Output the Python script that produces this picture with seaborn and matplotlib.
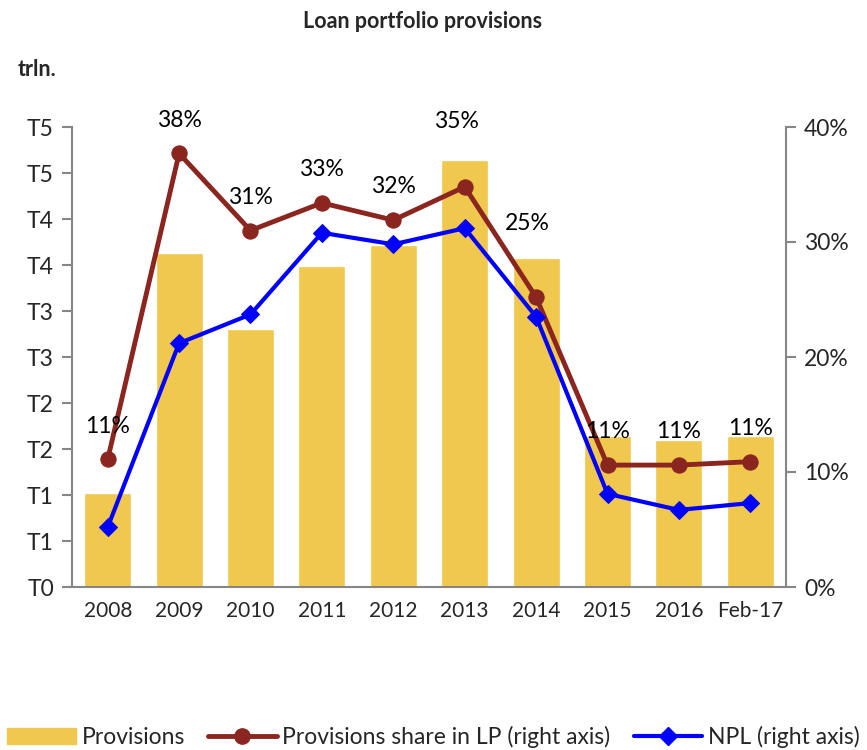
import matplotlib
matplotlib.use("Agg")
import matplotlib.pyplot as plt
import matplotlib.ticker as mticker
from matplotlib.lines import Line2D
from matplotlib.patches import Patch
import numpy as np
import pandas as pd
import seaborn as sns

periods = ["2008", "2009", "2010", "2011", "2012", "2013", "2014", "2015", "2016", "Feb-17"]
provisions = [1.02, 3.63, 2.80, 3.49, 3.72, 4.64, 3.58, 1.64, 1.60, 1.64]
share_lp = [11.1, 37.7, 31.0, 33.4, 31.9, 34.8, 25.2, 10.6, 10.6, 10.9]
npl = [5.2, 21.2, 23.7, 30.8, 29.8, 31.2, 23.5, 8.1, 6.7, 7.3]

BAR = "#F0C84E"
BROWN = "#8B2520"
BLUE = "#0000FF"
GREY = "#868686"

# label offsets (points) -- 2013 and 2014 labels sit above the bars
label_dx = [0, 0, 0, 0, 0, -6, -6, 0, 0, 0]
label_dy = [24, 24, 24, 24, 24, 47, 53, 24, 24, 24]

sns.set_style("white")
plt.rcParams["font.family"] = ["Lato", "DejaVu Sans"]

df = pd.DataFrame({"period": periods, "provisions": provisions,
                   "share": share_lp, "npl": npl, "pos": np.arange(len(periods))})

fig = plt.figure(figsize=(8.67, 7.5), dpi=100)
ax = fig.add_axes([72 / 867, 1 - 587 / 750, (786 - 72) / 867, (587 - 127) / 750])

sns.barplot(data=df, x="period", y="provisions", color=BAR, width=0.66,
            saturation=1, ax=ax, zorder=1)
ax.set_ylim(0, 5)
ax.yaxis.set_major_locator(mticker.MultipleLocator(0.5))
ax.yaxis.set_major_formatter(mticker.FuncFormatter(lambda v, _: f"T{int(np.floor(v + 0.5))}"))
ax.set_xlabel(""); ax.set_ylabel("")

ax2 = ax.twinx()
sns.lineplot(data=df, x="pos", y="share", color=BROWN, lw=3.5, marker="o",
             markersize=11, markeredgecolor=BROWN, ax=ax2)
sns.lineplot(data=df, x="pos", y="npl", color=BLUE, lw=3, marker="D",
             markersize=9, markeredgecolor=BLUE, ax=ax2)
ax2.set_ylim(0, 40)
ax2.yaxis.set_major_locator(mticker.MultipleLocator(10))
ax2.yaxis.set_major_formatter(mticker.FuncFormatter(lambda v, _: f"{v:.0f}%"))
ax2.set_xlabel(""); ax2.set_ylabel("")
ax.set_xlim(-0.5, len(periods) - 0.5)

for x, v, dx, dy in zip(df["pos"], share_lp, label_dx, label_dy):
    ax2.annotate(f"{v:.0f}%", (x, v), xytext=(dx, dy), textcoords="offset points",
                 ha="center", va="center", fontsize=16.5, color="black")

# x ticks at category boundaries, labels centred
ax.set_xticks(np.arange(len(periods)))
ax.set_xticklabels(periods)
ax.xaxis.set_minor_locator(mticker.FixedLocator(np.arange(-0.5, len(periods), 1)))
ax.tick_params(axis="x", which="major", length=0, labelsize=15, pad=10)
ax.tick_params(axis="x", which="minor", length=7, width=1.5, color=GREY, direction="out")
ax.tick_params(axis="y", length=7, width=1.5, color=GREY, labelsize=16.5, direction="out", pad=6)
ax2.tick_params(axis="y", length=7, width=1.5, color=GREY, labelsize=16.5, direction="out", pad=6)

for a in (ax, ax2):
    a.spines["top"].set_visible(False)
    for side in ("left", "right", "bottom"):
        a.spines[side].set_color(GREY)
        a.spines[side].set_linewidth(1.5)
ax.spines["right"].set_visible(False)
ax2.spines["left"].set_visible(False)
ax2.spines["bottom"].set_visible(False)

fig.text(423 / 867, 1 - 22 / 750, "Loan portfolio provisions", ha="center", va="center",
         fontsize=15.5, fontweight="bold")
fig.text(18 / 867, 1 - 70 / 750, "trln.", ha="left", va="center", fontsize=15.5, fontweight="bold")

handles = [
    Patch(facecolor=BAR, edgecolor=BAR),
    Line2D([0], [0], color=BROWN, lw=3.5, marker="o", markersize=11),
    Line2D([0], [0], color=BLUE, lw=3, marker="D", markersize=9),
]
labels = ["Provisions", "Provisions share in LP (right axis)", "NPL (right axis)"]
fig.legend(handles, labels, loc="center", bbox_to_anchor=(0.5, 1 - 737 / 750), ncol=3,
           frameon=False, fontsize=16.5, handlelength=3.0, handletextpad=0.25,
           columnspacing=1.0, borderaxespad=0, borderpad=0)

fig.savefig("out.png", dpi=100)
